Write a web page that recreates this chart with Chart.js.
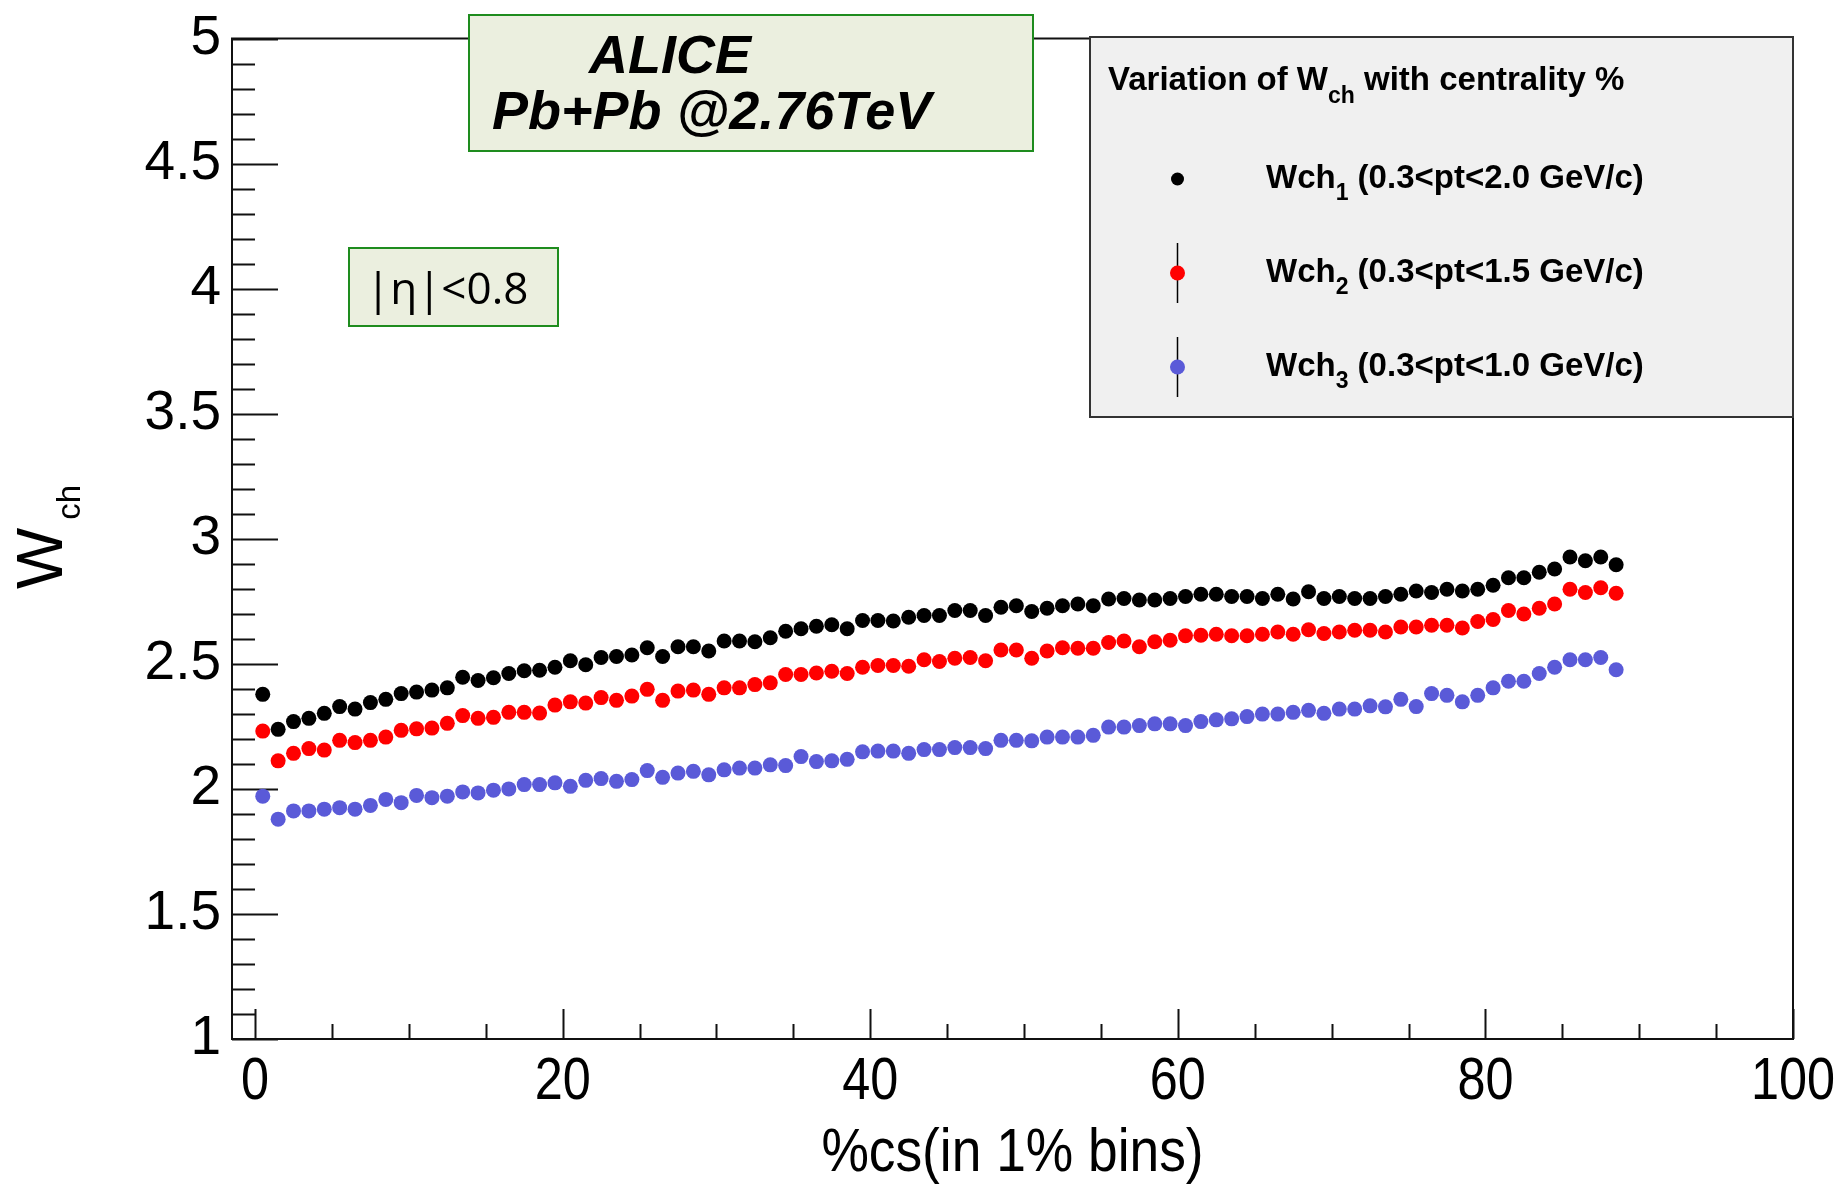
<!DOCTYPE html>
<html>
<head>
<meta charset="utf-8">
<title>Wch vs centrality</title>
<script src="https://cdn.jsdelivr.net/npm/chart.js@4.4.0/dist/chart.umd.min.js"></script>
<style>
  html, body { margin: 0; padding: 0; background: #ffffff; }
  canvas { display: block; }
</style>
</head>
<body>
<canvas id="chart" width="1846" height="1187"></canvas>
<script>
// Centrality bin centres (1% bins)
const centralityBins = [
  0.5, 1.5, 2.5, 3.5, 4.5, 5.5, 6.5, 7.5, 8.5, 9.5,
  10.5, 11.5, 12.5, 13.5, 14.5, 15.5, 16.5, 17.5, 18.5, 19.5,
  20.5, 21.5, 22.5, 23.5, 24.5, 25.5, 26.5, 27.5, 28.5, 29.5,
  30.5, 31.5, 32.5, 33.5, 34.5, 35.5, 36.5, 37.5, 38.5, 39.5,
  40.5, 41.5, 42.5, 43.5, 44.5, 45.5, 46.5, 47.5, 48.5, 49.5,
  50.5, 51.5, 52.5, 53.5, 54.5, 55.5, 56.5, 57.5, 58.5, 59.5,
  60.5, 61.5, 62.5, 63.5, 64.5, 65.5, 66.5, 67.5, 68.5, 69.5,
  70.5, 71.5, 72.5, 73.5, 74.5, 75.5, 76.5, 77.5, 78.5, 79.5,
  80.5, 81.5, 82.5, 83.5, 84.5, 85.5, 86.5, 87.5, 88.5
];

// Wch1 : 0.3 < pt < 2.0 GeV/c
const wch1 = [
  2.378, 2.238, 2.269, 2.282, 2.302, 2.329, 2.319, 2.345, 2.358, 2.381,
  2.387, 2.395, 2.404, 2.446, 2.433, 2.444, 2.461, 2.472, 2.474, 2.486,
  2.512, 2.496, 2.525, 2.529, 2.535, 2.564, 2.529, 2.568, 2.568, 2.551,
  2.591, 2.591, 2.588, 2.604, 2.630, 2.640, 2.650, 2.656, 2.640, 2.673,
  2.673, 2.671, 2.686, 2.693, 2.693, 2.713, 2.713, 2.693, 2.726, 2.732,
  2.709, 2.722, 2.732, 2.739, 2.732, 2.759, 2.761, 2.755, 2.755, 2.761,
  2.769, 2.778, 2.778, 2.769, 2.769, 2.761, 2.778, 2.759, 2.788, 2.761,
  2.769, 2.761, 2.761, 2.769, 2.778, 2.791, 2.785, 2.798, 2.791, 2.798,
  2.814, 2.844, 2.844, 2.866, 2.879, 2.927, 2.912, 2.927, 2.896
];

// Wch2 : 0.3 < pt < 1.5 GeV/c
const wch2 = [
  2.231, 2.112, 2.142, 2.161, 2.155, 2.194, 2.185, 2.194, 2.207, 2.234,
  2.240, 2.243, 2.262, 2.293, 2.282, 2.286, 2.306, 2.306, 2.303, 2.335,
  2.348, 2.343, 2.365, 2.354, 2.371, 2.398, 2.354, 2.391, 2.395, 2.378,
  2.404, 2.404, 2.417, 2.424, 2.457, 2.457, 2.463, 2.470, 2.461, 2.486,
  2.493, 2.493, 2.490, 2.516, 2.509, 2.522, 2.525, 2.512, 2.555, 2.555,
  2.522, 2.551, 2.564, 2.562, 2.562, 2.585, 2.591, 2.568, 2.588, 2.594,
  2.612, 2.614, 2.618, 2.612, 2.612, 2.618, 2.627, 2.618, 2.636, 2.621,
  2.627, 2.634, 2.634, 2.627, 2.647, 2.647, 2.654, 2.654, 2.643, 2.669,
  2.677, 2.713, 2.699, 2.722, 2.739, 2.798, 2.785, 2.804, 2.782
];

// Wch3 : 0.3 < pt < 1.0 GeV/c
const wch3 = [
  1.971, 1.879, 1.912, 1.912, 1.919, 1.925, 1.919, 1.934, 1.958, 1.945,
  1.974, 1.965, 1.971, 1.988, 1.984, 1.995, 2.000, 2.017, 2.017, 2.024,
  2.010, 2.034, 2.041, 2.030, 2.037, 2.073, 2.046, 2.063, 2.070, 2.056,
  2.076, 2.083, 2.083, 2.096, 2.093, 2.129, 2.109, 2.112, 2.118, 2.148,
  2.151, 2.151, 2.142, 2.157, 2.157, 2.165, 2.165, 2.161, 2.194, 2.194,
  2.192, 2.207, 2.207, 2.207, 2.214, 2.247, 2.247, 2.253, 2.260, 2.260,
  2.253, 2.269, 2.276, 2.280, 2.289, 2.299, 2.299, 2.306, 2.314, 2.302,
  2.319, 2.319, 2.332, 2.328, 2.358, 2.329, 2.381, 2.374, 2.348, 2.374,
  2.404, 2.430, 2.430, 2.461, 2.486, 2.516, 2.516, 2.525, 2.476
];

const seriesColors = ['#000000', '#ff0000', '#5a5ad8'];

// Legend entries: main text, subscript, remainder
const legendEntries = [
  { main: 'Wch', sub: '1', rest: ' (0.3<pt<2.0 GeV/c)', errorBar: false },
  { main: 'Wch', sub: '2', rest: ' (0.3<pt<1.5 GeV/c)', errorBar: true },
  { main: 'Wch', sub: '3', rest: ' (0.3<pt<1.0 GeV/c)', errorBar: true }
];

const AXIS_FONT = '"Liberation Sans", Arial, Helvetica, sans-serif';

function toPoints(values) {
  return centralityBins.map((x, i) => ({ x: x, y: values[i] }));
}

// Draw a run of text pieces, each with its own font and baseline offset
function drawRich(ctx, pieces, x, y) {
  let cx = x;
  for (const p of pieces) {
    ctx.font = p.font;
    ctx.fillText(p.text, cx, y + (p.dy || 0));
    cx += ctx.measureText(p.text).width + (p.gap || 0);
  }
}

// Frame and inward ROOT-style ticks, beneath the markers
const framePlugin = {
  id: 'frame',
  beforeDatasetsDraw(chart) {
    const { ctx, chartArea: a, scales: { x, y } } = chart;
    ctx.save();
    ctx.strokeStyle = '#111111';
    ctx.lineWidth = 2;
    ctx.strokeRect(a.left, a.top, a.right - a.left, a.bottom - a.top);

    ctx.lineWidth = 2;
    ctx.beginPath();
    for (let k = 10; k <= 50; k++) {
      const py = Math.round(y.getPixelForValue(k / 10)) + 0.5;
      const len = k % 5 === 0 ? 46 : 23;
      ctx.moveTo(a.left, py);
      ctx.lineTo(a.left + len, py);
    }
    for (let v = 0; v <= 100; v += 5) {
      const px = Math.round(x.getPixelForValue(v)) + 0.5;
      const len = v % 20 === 0 ? 30 : 15;
      ctx.moveTo(px, a.bottom);
      ctx.lineTo(px, a.bottom - len);
    }
    ctx.stroke();
    ctx.restore();
  }
};

// Axis texts, annotation boxes and legend
const overlayPlugin = {
  id: 'overlay',
  afterDraw(chart) {
    const { ctx, chartArea: a, scales: { x } } = chart;
    ctx.save();
    ctx.fillStyle = '#000000';

    // x tick labels (narrow Helvetica look)
    ctx.textAlign = 'center';
    ctx.textBaseline = 'alphabetic';
    ctx.font = '60px ' + AXIS_FONT;
    for (const t of x.ticks) {
      if (t.value < 0) continue;
      const px = x.getPixelForValue(t.value);
      ctx.save();
      ctx.translate(px, a.bottom + 60);
      ctx.scale(0.84, 1);
      ctx.fillText(String(t.value), 0, 0);
      ctx.restore();
    }

    // x axis title
    ctx.save();
    ctx.translate((a.left + a.right) / 2, 1171);
    ctx.scale(0.86, 1);
    ctx.font = '62px ' + AXIS_FONT;
    ctx.fillText('%cs(in 1% bins)', 0, 0);
    ctx.restore();

    // y axis title W_ch
    ctx.save();
    ctx.translate(62, 589);
    ctx.rotate(-Math.PI / 2);
    ctx.textAlign = 'left';
    drawRich(ctx, [
      { text: 'W', font: '65px ' + AXIS_FONT, gap: 8 },
      { text: 'ch', font: '33px ' + AXIS_FONT, dy: 18 }
    ], 0, 0);
    ctx.restore();

    // ALICE label box
    ctx.fillStyle = '#ebefdf';
    ctx.strokeStyle = '#1e8c1e';
    ctx.lineWidth = 2;
    ctx.fillRect(469, 15, 564, 136);
    ctx.strokeRect(469, 15, 564, 136);
    ctx.fillStyle = '#000000';
    ctx.textAlign = 'left';
    ctx.font = 'italic bold 54px ' + AXIS_FONT;
    ctx.fillText('ALICE', 589, 73);
    ctx.fillText('Pb+Pb @2.76TeV', 492, 129);

    // pseudorapidity window box
    ctx.fillStyle = '#ebefdf';
    ctx.fillRect(349, 248, 209, 78);
    ctx.strokeRect(349, 248, 209, 78);
    ctx.fillStyle = '#000000';
    ctx.font = '44px "Open Sans", Lato, sans-serif';
    ctx.fillText('|\u03B7|<0.8', 366, 304);

    // legend
    ctx.fillStyle = '#f0f0f0';
    ctx.strokeStyle = '#333333';
    ctx.lineWidth = 2;
    ctx.fillRect(1090, 37, 703, 380);
    ctx.strokeRect(1090, 37, 703, 380);
    ctx.fillStyle = '#000000';
    drawRich(ctx, [
      { text: 'Variation of W', font: 'bold 33px ' + AXIS_FONT },
      { text: 'ch', font: 'bold 23px ' + AXIS_FONT, dy: 13 },
      { text: ' with centrality %', font: 'bold 33px ' + AXIS_FONT }
    ], 1108, 90);

    const rowY = [179, 273, 367];
    legendEntries.forEach((e, i) => {
      const my = rowY[i];
      if (e.errorBar) {
        ctx.strokeStyle = '#000000';
        ctx.lineWidth = 1.5;
        ctx.beginPath();
        ctx.moveTo(1177.5, my - 30);
        ctx.lineTo(1177.5, my + 30);
        ctx.stroke();
      }
      ctx.fillStyle = seriesColors[i];
      ctx.beginPath();
      ctx.arc(1177.5, my, e.errorBar ? 7.5 : 6.5, 0, Math.PI * 2);
      ctx.fill();
      ctx.fillStyle = '#000000';
      drawRich(ctx, [
        { text: e.main, font: 'bold 33px ' + AXIS_FONT },
        { text: e.sub, font: 'bold 23px ' + AXIS_FONT, dy: 12 },
        { text: e.rest, font: 'bold 33px ' + AXIS_FONT }
      ], 1266, my + 9);
    });

    ctx.restore();
  }
};

const seriesValues = [wch1, wch2, wch3];

new Chart(document.getElementById('chart'), {
  type: 'scatter',
  data: {
    datasets: seriesValues.map((vals, i) => ({
      label: legendEntries[i].main + legendEntries[i].sub,
      data: toPoints(vals),
      backgroundColor: seriesColors[i],
      borderColor: seriesColors[i],
      pointRadius: 7.5,
      pointHoverRadius: 7.5,
      pointBorderWidth: 0
    }))
  },
  options: {
    responsive: false,
    animation: false,
    devicePixelRatio: 1,
    events: [],
    layout: { padding: { left: 0, right: 53, top: 33, bottom: 0 } },
    plugins: {
      legend: { display: false },
      tooltip: { enabled: false }
    },
    scales: {
      x: {
        type: 'linear',
        min: -1.5,
        max: 100,
        afterFit(scale) { scale.height = 148; },
        grid: { display: false, drawTicks: false },
        border: { display: false },
        ticks: { display: false, stepSize: 20, includeBounds: false }
      },
      y: {
        type: 'linear',
        min: 1,
        max: 5,
        afterFit(scale) { scale.width = 232; },
        grid: { display: false, drawTicks: false },
        border: { display: false },
        ticks: {
          stepSize: 0.5,
          padding: 11,
          color: '#000000',
          font: { family: AXIS_FONT, size: 55, lineHeight: 1 },
          callback: (value) => String(Number(value))
        }
      }
    }
  },
  plugins: [framePlugin, overlayPlugin]
});
</script>
</body>
</html>
